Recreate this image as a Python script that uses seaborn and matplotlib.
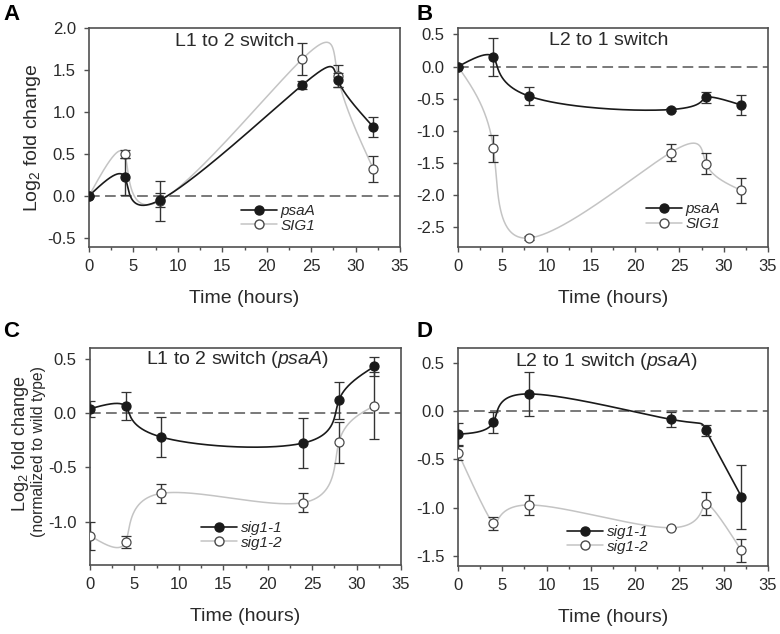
import numpy as np
import pandas as pd
import seaborn as sns
import matplotlib
matplotlib.use("Agg")
import matplotlib.pyplot as plt
from matplotlib.lines import Line2D
from matplotlib.ticker import MultipleLocator

# ---------------- data ----------------
time_h = [0, 4, 8, 24, 28, 32]

a_psaA = [0.0, 0.23, -0.05, 1.32, 1.38, 0.82]
a_psaA_err = [0.0, 0.22, 0.08, 0.05, 0.08, 0.12]
a_sig1 = [0.0, 0.50, -0.06, 1.63, 1.43, 0.32]
a_sig1_err = [0.0, 0.05, 0.24, 0.19, 0.13, 0.16]

b_psaA = [0.0, 0.15, -0.46, -0.67, -0.48, -0.60]
b_psaA_err = [0.0, 0.29, 0.14, 0.02, 0.09, 0.15]
b_sig1 = [0.0, -1.27, -2.67, -1.34, -1.51, -1.93]
b_sig1_err = [0.0, 0.21, 0.03, 0.13, 0.17, 0.19]

c_sig11 = [0.04, 0.064, -0.22, -0.276, 0.117, 0.43]
c_sig11_err = [0.074, 0.13, 0.18, 0.23, 0.17, 0.09]
c_sig12 = [-1.13, -1.19, -0.74, -0.825, -0.27, 0.067]
c_sig12_err = [0.13, 0.055, 0.09, 0.09, 0.19, 0.31]

d_sig11 = [-0.24, -0.117, 0.176, -0.086, -0.20, -0.885]
d_sig11_err = [0.12, 0.11, 0.225, 0.08, 0.06, 0.33]
d_sig12 = [-0.43, -1.16, -0.97, -1.205, -0.957, -1.44]
d_sig12_err = [0.08, 0.065, 0.105, 0.0, 0.12, 0.115]

# ---------------- style ----------------
sns.set_style("ticks")
plt.rcParams["font.family"] = ["Liberation Sans", "DejaVu Sans"]
plt.rcParams["mathtext.fontset"] = "custom"
plt.rcParams["mathtext.rm"] = "Liberation Sans"
plt.rcParams["mathtext.it"] = "Liberation Sans:italic"
plt.rcParams["mathtext.bf"] = "Liberation Sans:bold"

DARK = "#1a1a1a"
GREY_LINE = "#c4c4c4"
OPEN_EDGE = "#4a4a4a"
ERR = "#333333"
SPINE = "#505050"
TXT = "#2a2a2a"


def spline_curve(xv, yv, n=400):
    """Parametric natural cubic spline through the data points (display curve)."""
    xv = np.asarray(xv, float)
    yv = np.asarray(yv, float)
    m = len(xv)
    s = np.linspace(0, m - 1, n)

    def nat(v):
        A = np.zeros((m, m))
        b = np.zeros(m)
        A[0, 0] = 1
        A[-1, -1] = 1
        for i in range(1, m - 1):
            A[i, i - 1] = 1
            A[i, i] = 4
            A[i, i + 1] = 1
            b[i] = 6 * (v[i + 1] - 2 * v[i] + v[i - 1])
        M = np.linalg.solve(A, b)
        idx = np.minimum(s.astype(int), m - 2)
        t = s - idx
        return ((1 - t) * v[idx] + t * v[idx + 1]
                + ((1 - t) ** 3 - (1 - t)) * M[idx] / 6
                + (t ** 3 - t) * M[idx + 1] / 6)

    return nat(xv), nat(yv)


fig = plt.figure(figsize=(7.8, 6.34), dpi=100)
fig.patch.set_facecolor("white")

W, H = 780.0, 634.0


def make_ax(left, top, right, bottom):
    return fig.add_axes([left / W, 1 - bottom / H, (right - left) / W, (bottom - top) / H])


panels = [
    dict(ax=make_ax(89, 28, 400, 247), s1=a_psaA, e1=a_psaA_err, s2=a_sig1, e2=a_sig1_err,
         labels=["psaA", "SIG1"], ylim=(-0.61, 2.0), ymaj=0.5,
         title="L1 to 2 switch", tpos=(0.469, 0.94), leg=(0.489, 0.196), letter="A", lpos=(3, 20)),
    dict(ax=make_ax(458, 28, 768, 247), s1=b_psaA, e1=b_psaA_err, s2=b_sig1, e2=b_sig1_err,
         labels=["psaA", "SIG1"], ylim=(-2.81, 0.6), ymaj=0.5,
         title="L2 to 1 switch", tpos=(0.486, 0.945), leg=(0.606, 0.205), letter="B", lpos=(416, 20)),
    dict(ax=make_ax(90, 348, 401, 565), s1=c_sig11, e1=c_sig11_err, s2=c_sig12, e2=c_sig12_err,
         labels=["sig1-1", "sig1-2"], ylim=(-1.4, 0.6), ymaj=0.5,
         title="L1 to 2 switch ($\\it{psaA}$)", tpos=(0.473, 0.945), leg=(0.357, 0.203), letter="C", lpos=(3, 337)),
    dict(ax=make_ax(458, 348, 768, 566), s1=d_sig11, e1=d_sig11_err, s2=d_sig12, e2=d_sig12_err,
         labels=["sig1-1", "sig1-2"], ylim=(-1.6, 0.65), ymaj=0.5,
         title="L2 to 1 switch ($\\it{psaA}$)", tpos=(0.48, 0.94), leg=(0.352, 0.188), letter="D", lpos=(416, 337)),
]

for p in panels:
    ax = p["ax"]
    ax.axhline(0, color="#555555", lw=1.1, ls=(0, (7, 3.5)), zorder=1)

    # smooth curves
    gx, gy = spline_curve(time_h, p["s2"])
    sns.lineplot(x=gx, y=gy, sort=False, estimator=None, ax=ax, color=GREY_LINE, lw=1.1, zorder=2)
    kx, ky = spline_curve(time_h, p["s1"])
    sns.lineplot(x=kx, y=ky, sort=False, estimator=None, ax=ax, color=DARK, lw=1.2, zorder=3)

    # error bars and markers
    ax.errorbar(time_h, p["s2"], yerr=p["e2"], fmt="o", ms=6.5, mfc="white", mec=OPEN_EDGE,
                mew=0.9, ecolor=ERR, elinewidth=1.0, capsize=3.5, capthick=1.0, zorder=4)
    ax.errorbar(time_h, p["s1"], yerr=p["e1"], fmt="o", ms=6.5, mfc=DARK, mec=DARK,
                mew=0.9, ecolor=ERR, elinewidth=1.0, capsize=3.5, capthick=1.0, zorder=5)

    ax.set_xlim(0, 35)
    ax.set_ylim(*p["ylim"])
    ax.xaxis.set_major_locator(MultipleLocator(5))
    ax.xaxis.set_minor_locator(MultipleLocator(2.5))
    ax.yaxis.set_major_locator(MultipleLocator(p["ymaj"]))
    ax.yaxis.set_major_formatter(matplotlib.ticker.FormatStrFormatter("%.1f"))
    ax.tick_params(axis="both", which="major", direction="out", length=3.5, width=1.0,
                   color=SPINE, labelsize=12, labelcolor=TXT)
    ax.tick_params(axis="x", which="minor", direction="out", length=2.5, width=1.0, color=SPINE)
    ax.tick_params(axis="x", which="major", pad=5)
    ax.tick_params(axis="y", which="major", pad=6)
    for sp in ax.spines.values():
        sp.set_visible(True)
        sp.set_color(SPINE)
        sp.set_linewidth(1.2)

    ax.set_xlabel("Time (hours)", fontsize=14, labelpad=12, color=TXT)

    ax.text(p["tpos"][0], p["tpos"][1], p["title"], transform=ax.transAxes,
            ha="center", va="center", fontsize=14, color=TXT)

    handles = [
        Line2D([], [], color=DARK, lw=1.2, marker="o", ms=6.5, mfc=DARK, mec=DARK),
        Line2D([], [], color=GREY_LINE, lw=1.1, marker="o", ms=6.5, mfc="white", mec=OPEN_EDGE),
    ]
    ax.legend(handles, p["labels"], loc="upper left", bbox_to_anchor=p["leg"], frameon=False,
              prop={"style": "italic", "size": 11}, handlelength=2.35, handletextpad=0.25,
              labelspacing=0.05, borderpad=0, borderaxespad=0, labelcolor=TXT)

    fig.text(p["lpos"][0] / W, 1 - p["lpos"][1] / H, p["letter"], fontsize=16,
             fontweight="bold", ha="left", va="baseline", color="black")

panels[0]["ax"].set_ylabel("Log$_2$ fold change", fontsize=14, labelpad=3, color=TXT)
axc = panels[2]["ax"]
axc.text(-0.222, 0.558, "Log$_2$ fold change", transform=axc.transAxes, rotation=90,
         ha="center", va="center", fontsize=13, color=TXT)
axc.text(-0.166, 0.522, "(normalized to wild type)", transform=axc.transAxes, rotation=90,
         ha="center", va="center", fontsize=11.3, color=TXT)

fig.savefig("out.png", dpi=100, facecolor="white")
